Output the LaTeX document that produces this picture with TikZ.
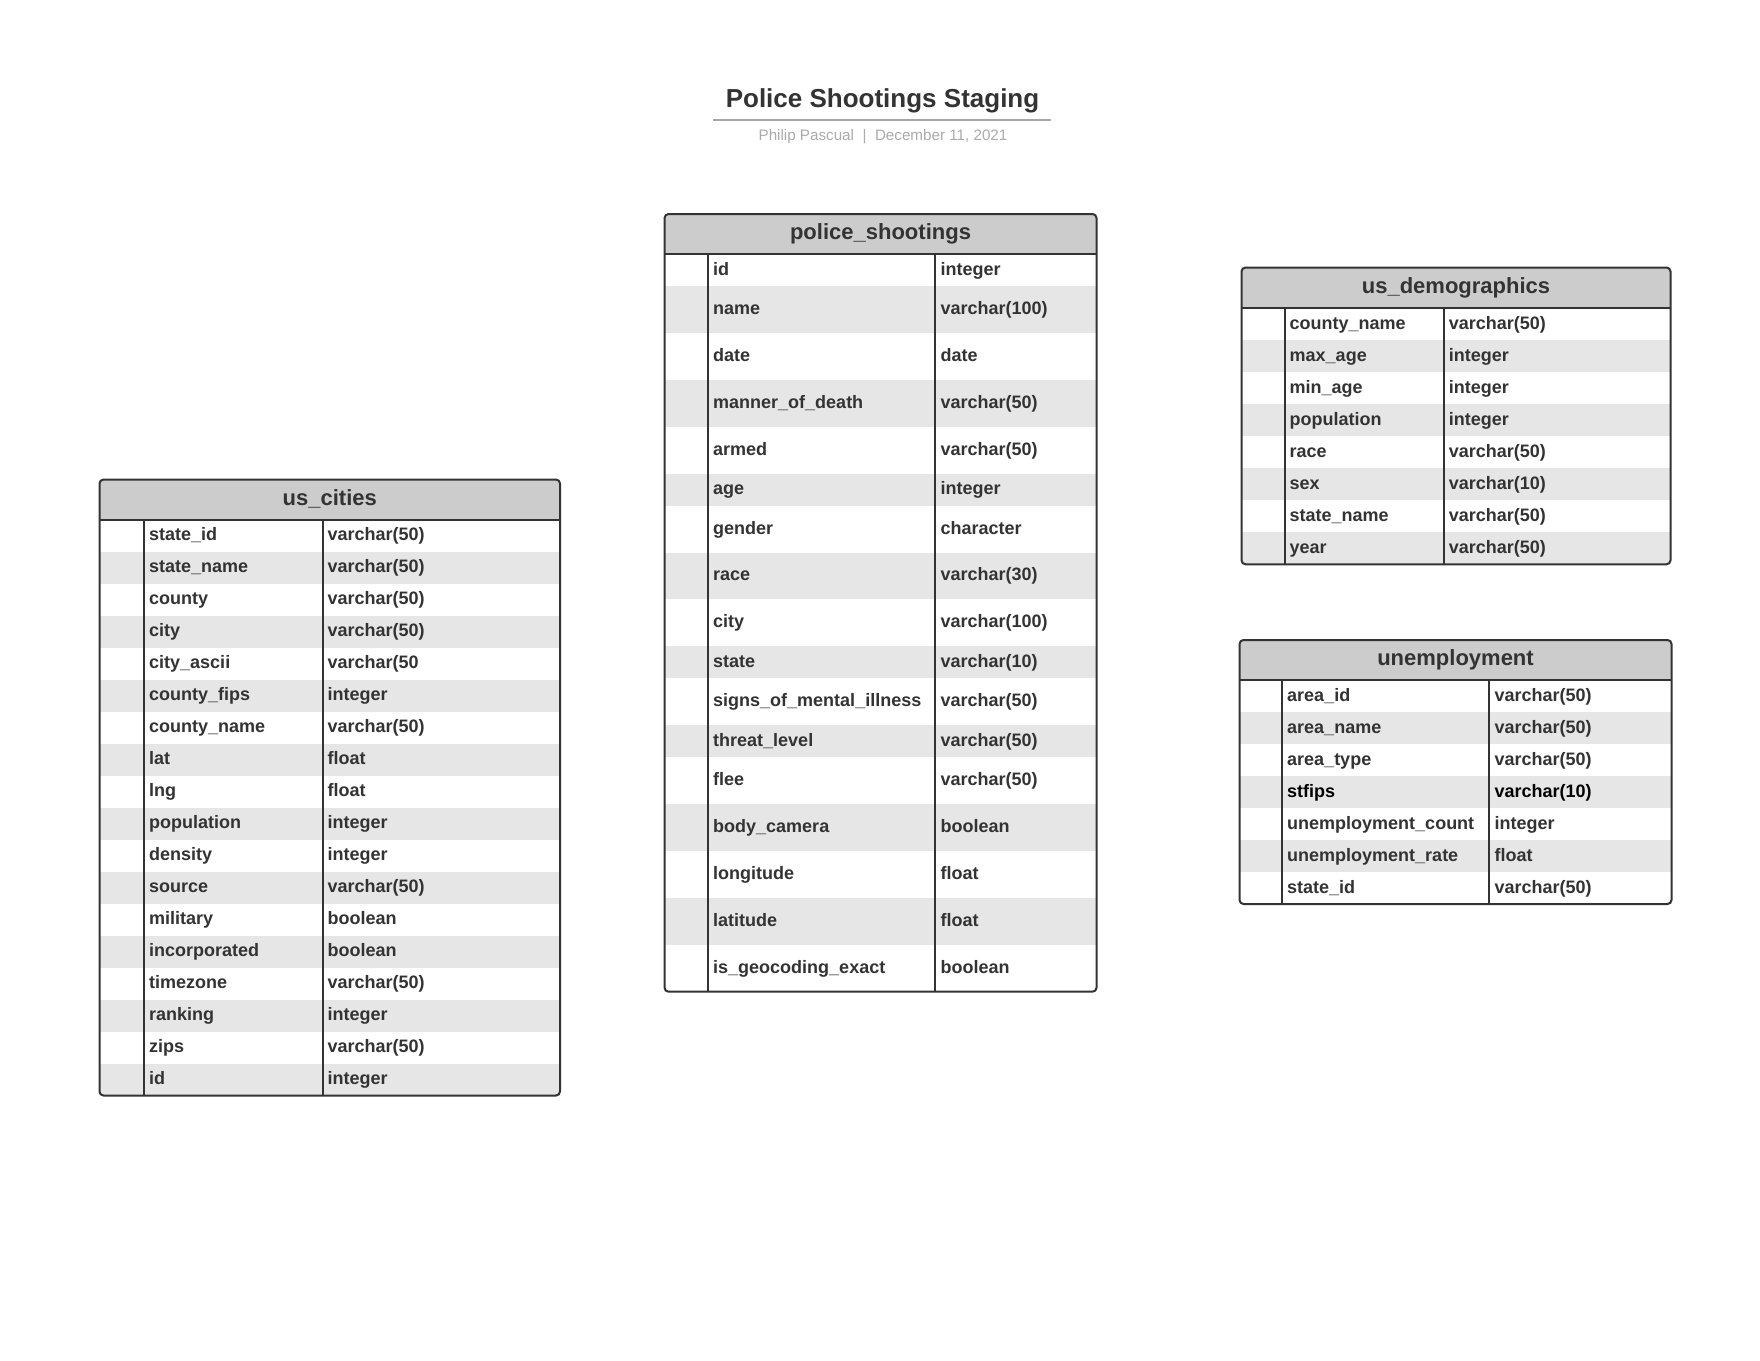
\documentclass[tikz,border=0pt]{standalone}
\usepackage{fontspec}
\setmainfont{Liberation Sans}
\definecolor{ink}{HTML}{333333}
\definecolor{headfill}{HTML}{CCCCCC}
\definecolor{rowfill}{HTML}{E6E6E6}
\definecolor{rulegray}{HTML}{A6A6A6}
\definecolor{subtxt}{HTML}{ABABAB}
\tikzset{
  cell/.style={anchor=base west, inner sep=0pt, text=ink, font=\bfseries\fontsize{18}{20}\selectfont},
  headtxt/.style={anchor=base, inner sep=0pt, text=ink, font=\bfseries\fontsize{22}{24}\selectfont},
  tblline/.style={draw=ink, line width=2pt},
}
% #1 id, #2 title, #3 xL, #4 c1, #5 c2, #6 xR, #7 top, #8 head bottom, #9 rows
\newcommand\ertable[9]{%
  \xdef\cury{#8}%
  \foreach \nm/\ty/\hh in {#9}{%
    \pgfmathsetmacro\ynext{\cury+\hh}%
    \xdef\cury{\ynext}%
  }%
  \xdef\ybot{\cury}%
  \fill[white, rounded corners=4pt] (#3,#7) rectangle (#6,\ybot);
  \begin{scope}
    \clip[rounded corners=4pt] (#3,#7) rectangle (#6,\ybot);
    \fill[headfill] (#3,#7) rectangle (#6,#8);
    \xdef\cury{#8}%
    \foreach \nm/\ty/\hh [count=\i] in {#9}{%
      \pgfmathsetmacro\ynext{\cury+\hh}%
      \ifodd\i\else
        \fill[rowfill] (#3,\cury) rectangle (#6,\ynext);
      \fi
      \xdef\cury{\ynext}%
    }%
  \end{scope}
  \xdef\cury{#8}%
  \foreach \nm/\ty/\hh [count=\i] in {#9}{%
    \pgfmathsetmacro\ynext{\cury+\hh}%
    \pgfmathsetmacro\ybase{(\cury+\ynext)/2+5}%
    \node[cell] (#1-n\i) at (#4+5,\ybase) {\nm};
    \node[cell] (#1-t\i) at (#5+5,\ybase) {\ty};
    \xdef\cury{\ynext}%
  }%
  \node[headtxt] (#1-head) at ({(#3+#6)/2},{(#7+#8)/2+5.6}) {#2};
  \draw[tblline, rounded corners=4pt] (#3,#7) rectangle (#6,\ybot);
  \draw[tblline] (#3,#8) -- (#6,#8);
  \draw[tblline] (#4,#8) -- (#4,\ybot);
  \draw[tblline] (#5,#8) -- (#5,\ybot);
}
\begin{document}
\begin{tikzpicture}[x=1pt,y=-1pt]
\useasboundingbox (0,0) rectangle (1760,1360);
\fill[white] (0,0) rectangle (1760,1360);

\node[anchor=base, inner sep=0pt, text=ink, font=\bfseries\fontsize{26}{28}\selectfont] (title) at (882.5,107.5) {Police Shootings Staging};
\coordinate (ulA) at (713,120);
\coordinate (ulB) at (1051,120);
\draw[rulegray, line width=2pt] (ulA) -- (ulB);
\node[anchor=base, inner sep=0pt, text=subtxt, font=\fontsize{15.2}{17}\selectfont] (subtitle) at (883,140) {Philip Pascual\hspace{8.5pt}|\hspace{8.5pt}December 11, 2021};

\ertable{cities}{us\_cities}{99.5}{144}{322.5}{560}{479.5}{519.5}{%
state\_id/varchar(50)/32, state\_name/varchar(50)/32, county/varchar(50)/32, city/varchar(50)/32, city\_ascii/varchar(50/32, county\_fips/integer/32, county\_name/varchar(50)/32, lat/float/32, lng/float/32, population/integer/32, density/integer/32, source/varchar(50)/32, military/boolean/32, incorporated/boolean/32, timezone/varchar(50)/32, ranking/integer/32, zips/varchar(50)/32, id/integer/32}

\ertable{ps}{police\_shootings}{664.5}{708}{935.3}{1096.5}{214}{254}{%
id/integer/32, name/varchar(100)/46.9, date/date/46.9, manner\_of\_death/varchar(50)/46.9, armed/varchar(50)/46.9, age/integer/32, gender/character/46.9, race/varchar(30)/46.9, city/varchar(100)/46.9, state/varchar(10)/32, signs\_of\_mental\_illness/varchar(50)/46.9, threat\_level/varchar(50)/32, flee/varchar(50)/46.9, body\_camera/boolean/46.9, longitude/float/46.9, latitude/float/46.9, is\_geocoding\_exact/boolean/46.9}

\ertable{demo}{us\_demographics}{1241.5}{1284.5}{1443.7}{1670.5}{267.5}{308.3}{%
county\_name/varchar(50)/32, max\_age/integer/32, min\_age/integer/32, population/integer/32, race/varchar(50)/32, sex/varchar(10)/32, state\_name/varchar(50)/32, year/varchar(50)/32}

\ertable{unemp}{unemployment}{1239.5}{1282}{1489.3}{1671.5}{640}{680}{%
area\_id/varchar(50)/32, area\_name/varchar(50)/32, area\_type/varchar(50)/32, \textcolor{black}{stfips}/\textcolor{black}{varchar(10)}/32, unemployment\_count/integer/32, unemployment\_rate/float/32, state\_id/varchar(50)/32}
\end{tikzpicture}
\end{document}
